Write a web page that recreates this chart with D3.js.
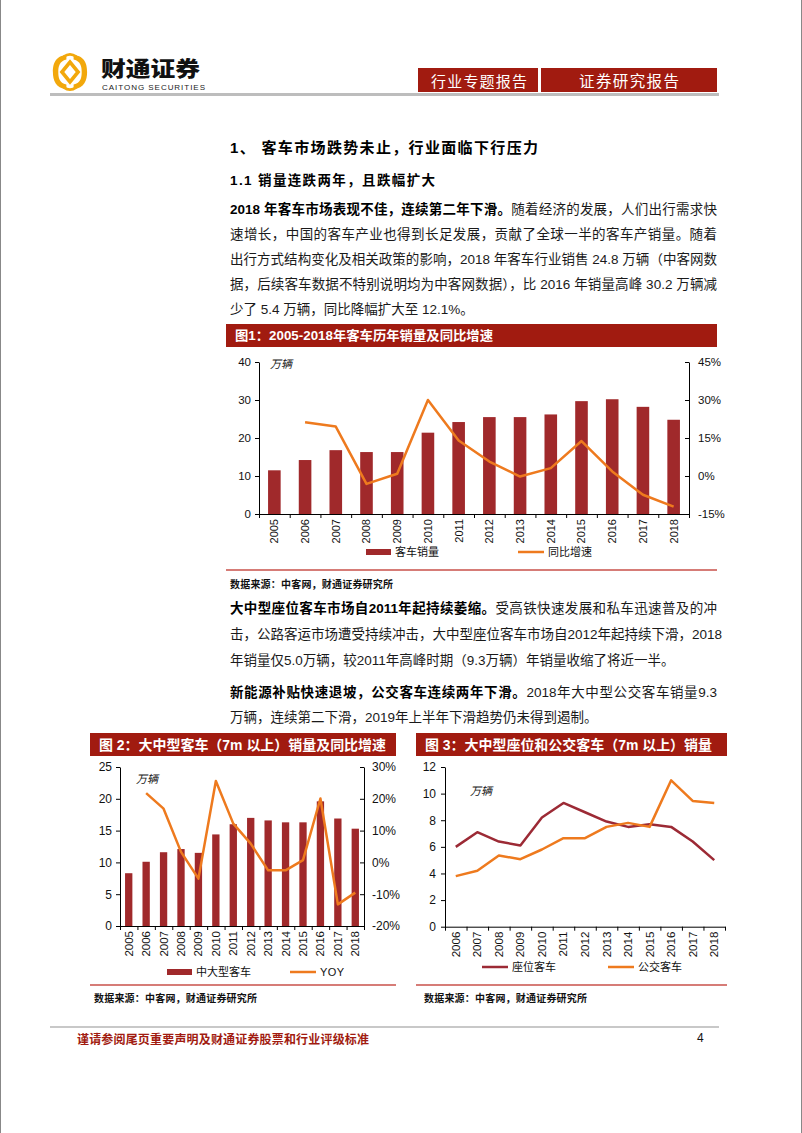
<!DOCTYPE html>
<html><head><meta charset="utf-8">
<script src="https://cdn.jsdelivr.net/npm/d3@7"></script>
<style>
body{margin:0;background:#fff;width:802px;height:1133px;overflow:hidden;position:relative;font-family:"Liberation Sans","Noto Sans CJK SC",sans-serif;}
.line{position:absolute;left:230px;width:487px;font-size:13.5px;line-height:20px;height:20px;white-space:nowrap;color:#1a1a1a;}
.j{text-align:justify;text-align-last:justify;}
.line b{font-weight:bold;color:#000;}
svg{position:absolute;left:0;top:0;}
</style></head><body>
<svg id="page" width="802" height="1133"></svg>
<div id="text"></div>
<script>
// ---------------- data ----------------
const years1 = ["2005","2006","2007","2008","2009","2010","2011","2012","2013","2014","2015","2016","2017","2018"];
const busSales = [11.5,14.2,16.8,16.3,16.3,21.4,24.2,25.5,25.5,26.2,29.7,30.2,28.2,24.8];
const busYoy = [null,21.2,19.5,-3.1,0.9,30.0,14.0,5.7,-0.2,3.1,13.8,1.8,-7.4,-12.1];
const leftTicks1 = [0,10,20,30,40];
const rightTicks1 = [-15,0,15,30,45];

const largeSales = [8.3,10.1,11.6,12.1,11.5,14.4,16.0,17.0,16.6,16.3,16.3,19.6,16.9,15.3];
const largeYoy = [null,21.8,16.9,3.3,-5.1,25.6,12.2,5.9,-2.5,-2.5,0.7,20.1,-13.2,-9.5];
const leftTicks2 = [0,5,10,15,20,25];
const rightTicks2 = [-20,-10,0,10,20,30];

const years3 = ["2006","2007","2008","2009","2010","2011","2012","2013","2014","2015","2016","2017","2018"];
const seatBus = [6.0,7.1,6.4,6.1,8.2,9.3,8.6,7.9,7.5,7.7,7.5,6.4,5.0];
const cityBus = [3.8,4.2,5.35,5.07,5.8,6.65,6.65,7.5,7.8,7.5,11.0,9.45,9.3];
const leftTicks3 = [0,2,4,6,8,10,12];

const RED = "#A11B10", BAR = "#A0292B", ORANGE = "#EE7A1E", SEAT = "#9C2A35", RULE = "#C9504A";
const FONT = '"Liberation Sans","Noto Sans CJK SC",sans-serif';
const CJK = '"Noto Sans CJK SC",sans-serif';

const svg = d3.select("#page");

// page edges
svg.append("line").attr("x1",0.5).attr("x2",0.5).attr("y1",0).attr("y2",1133).attr("stroke","#888");
svg.append("line").attr("x1",801.5).attr("x2",801.5).attr("y1",0).attr("y2",1133).attr("stroke","#888");

// ---------------- header ----------------
const logo = svg.append("g").attr("transform","translate(70,72) scale(0.9)");
const gold = "#F2A80C";
logo.append("path").attr("d","M-4,-19 C-17,-18 -19,-8 -19,0 C-19,9 -16,18 -4,19 L-4,14 C-12,12 -13,6 -13,0 C-13,-6 -12,-12 -4,-14 Z").attr("fill",gold);
logo.append("path").attr("d","M4,-19 C17,-18 19,-8 19,0 C19,9 16,18 4,19 L4,14 C12,12 13,6 13,0 C13,-6 12,-12 4,-14 Z").attr("fill",gold);
logo.append("path").attr("d","M0,-11 L9,0 L0,11 L-9,0 Z").attr("fill","none").attr("stroke",gold).attr("stroke-width",4);
logo.append("path").attr("d","M-7,-17 Q0,-22 7,-17").attr("fill","none").attr("stroke",gold).attr("stroke-width",3);
logo.append("path").attr("d","M-7,17 Q0,22 7,17").attr("fill","none").attr("stroke",gold).attr("stroke-width",3);

svg.append("text").attr("x",101).attr("y",75.5).attr("font-family",CJK).attr("font-weight",900)
  .attr("font-size",21).attr("textLength",99).attr("lengthAdjust","spacingAndGlyphs").attr("fill","#111").text("财通证券");
svg.append("text").attr("x",102).attr("y",89.5).attr("font-family",FONT)
  .attr("font-size",8).attr("textLength",103).attr("fill","#222").text("CAITONG SECURITIES");

svg.append("rect").attr("x",418).attr("y",68).attr("width",120).attr("height",24).attr("fill",RED);
svg.append("rect").attr("x",541).attr("y",68).attr("width",176).attr("height",24).attr("fill",RED);
svg.append("text").attr("x",431).attr("y",80).attr("dominant-baseline","central").attr("font-family",CJK)
  .attr("font-size",15).attr("textLength",96).attr("fill","#fff").text("行业专题报告");
svg.append("text").attr("x",579).attr("y",80).attr("dominant-baseline","central").attr("font-family",CJK)
  .attr("font-size",15.5).attr("textLength",100).attr("fill","#fff").text("证券研究报告");
svg.append("rect").attr("x",50).attr("y",93).attr("width",669).attr("height",3).attr("fill","#BDBDBD");

// ---------------- headings ----------------
svg.append("text").attr("x",230).attr("y",147).attr("dominant-baseline","central").attr("font-family",FONT)
  .attr("font-weight","bold").attr("font-size",15).attr("textLength",308).attr("fill","#000").text("1、 客车市场跌势未止，行业面临下行压力");
svg.append("text").attr("x",230).attr("y",180).attr("dominant-baseline","central").attr("font-family",FONT)
  .attr("font-weight","bold").attr("font-size",13.5).attr("textLength",205).attr("fill","#000").text("1.1  销量连跌两年，且跌幅扩大");

// ---------------- paragraphs ----------------
const paraLines = [
  {y:210, j:true, html:"<b>2018 年客车市场表现不佳，连续第二年下滑。</b>随着经济的发展，人们出行需求快"},
  {y:235, j:true, html:"速增长，中国的客车产业也得到长足发展，贡献了全球一半的客车产销量。随着"},
  {y:260, j:true, html:"出行方式结构变化及相关政策的影响，2018 年客车行业销售 24.8 万辆（中客网数"},
  {y:285, j:true, html:"据，后续客车数据不特别说明均为中客网数据），比 2016 年销量高峰 30.2 万辆减"},
  {y:310, j:false, html:"少了 5.4 万辆，同比降幅扩大至 12.1%。"},
  {y:609, j:true, html:"<b>大中型座位客车市场自2011年起持续萎缩。</b>受高铁快速发展和私车迅速普及的冲"},
  {y:635, j:true, html:"击，公路客运市场遭受持续冲击，大中型座位客车市场自2012年起持续下滑，2018"},
  {y:661, j:false, html:"年销量仅5.0万辆，较2011年高峰时期（9.3万辆）年销量收缩了将近一半。"},
  {y:693, j:true, html:"<b>新能源补贴快速退坡，公交客车连续两年下滑。</b>2018年大中型公交客车销量9.3"},
  {y:718, j:false, html:"万辆，连续第二下滑，2019年上半年下滑趋势仍未得到遏制。"}
];
d3.select("#text").selectAll("div").data(paraLines).join("div")
  .attr("class", d => "line" + (d.j ? " j" : ""))
  .style("top", d => (d.y - 10) + "px")
  .html(d => d.html);

// ---------------- helpers ----------------
function titleBar(x, y, w, h, label, tl, fs) {
  svg.append("rect").attr("x",x).attr("y",y).attr("width",w).attr("height",h).attr("fill",RED);
  svg.append("text").attr("x",x+9).attr("y",y+h/2).attr("dominant-baseline","central")
    .attr("font-family",FONT).attr("font-weight","bold").attr("font-size",fs)
    .attr("textLength",tl).attr("lengthAdjust","spacingAndGlyphs").attr("fill","#fff").text(label);
}
function source(x, y, x0, x1, ry) {
  svg.append("line").attr("x1",x0).attr("x2",x1).attr("y1",ry).attr("y2",ry).attr("stroke",RULE).attr("stroke-width",1.5);
  svg.append("text").attr("x",x).attr("y",y).attr("dominant-baseline","central").attr("font-family",CJK)
    .attr("font-weight","bold").attr("font-size",10).attr("textLength",163).attr("fill","#111").text("数据来源：中客网，财通证券研究所");
}
function xAxis(g, cats, x0, x1, y0, fs) {
  const n = cats.length;
  const lin = d3.scaleLinear().domain([0,n]).range([x0,x1]);
  g.append("g").attr("transform",`translate(0,${y0})`)
    .call(d3.axisBottom(lin).tickValues(d3.range(n+1)).tickFormat("").tickSize(4).tickSizeOuter(0));
  const band = d3.scaleBand().domain(cats).range([x0,x1]);
  g.selectAll(null).data(cats).join("text")
    .attr("transform", d => `translate(${band(d)+band.bandwidth()/2},${y0+5}) rotate(-90)`)
    .attr("text-anchor","end").attr("dy","0.35em").attr("font-family",FONT).attr("font-size",fs).attr("fill","#111").text(d=>d);
}
function styleAxis(sel, fs) {
  sel.selectAll("text").attr("font-family",FONT).attr("font-size",fs).attr("fill","#111");
  sel.selectAll("path,line").attr("stroke","#000");
}
function legendBar(x, y, label, color, tl) {
  svg.append("rect").attr("x",x).attr("y",y-3).attr("width",25).attr("height",6).attr("fill",color);
  svg.append("text").attr("x",x+29).attr("y",y).attr("dominant-baseline","central").attr("font-family",FONT)
    .attr("font-size",11).attr("textLength",tl).attr("fill","#111").text(label);
}
function legendLine(x, y, label, color, tl) {
  svg.append("line").attr("x1",x).attr("x2",x+26).attr("y1",y).attr("y2",y).attr("stroke",color).attr("stroke-width",2.5);
  svg.append("text").attr("x",x+30).attr("y",y).attr("dominant-baseline","central").attr("font-family",FONT)
    .attr("font-size",11).attr("textLength",tl).attr("fill","#111").text(label);
}

function barLineChart(o) {
  const g = svg.append("g");
  const x = d3.scaleBand().domain(o.cats).range([o.x0,o.x1]).paddingInner(o.pad).paddingOuter(o.pad/2);
  const yL = d3.scaleLinear().domain([o.leftTicks[0], o.leftTicks[o.leftTicks.length-1]]).range([o.yb,o.yt]);
  const yR = d3.scaleLinear().domain([o.rightTicks[0], o.rightTicks[o.rightTicks.length-1]]).range([o.yb,o.yt]);
  g.selectAll(null).data(o.cats).join("rect")
    .attr("x", d => x(d)).attr("width", x.bandwidth())
    .attr("y", (d,i) => yL(o.bars[i])).attr("height", (d,i) => yL(0) - yL(o.bars[i]))
    .attr("fill", BAR);
  const pts = o.cats.map((d,i) => [x(d)+x.bandwidth()/2, o.line[i]]).filter(p => p[1] != null);
  g.append("path").datum(pts).attr("fill","none").attr("stroke",ORANGE).attr("stroke-width",2.5)
    .attr("stroke-linejoin","round")
    .attr("d", d3.line().x(p=>p[0]).y(p=>yR(p[1])));
  const la = g.append("g").attr("transform",`translate(${o.x0},0)`)
    .call(d3.axisLeft(yL).tickValues(o.leftTicks).tickSize(4).tickPadding(4).tickSizeOuter(0));
  styleAxis(la, o.fs);
  const ra = g.append("g").attr("transform",`translate(${o.x1},0)`)
    .call(d3.axisRight(yR).tickValues(o.rightTicks).tickFormat(d => d + "%").tickSizeInner(-4).tickSizeOuter(0).tickPadding(o.rpad));
  styleAxis(ra, o.fs);
  xAxis(g, o.cats, o.x0, o.x1, o.yb, o.xfs);
  g.append("text").attr("x",o.unitX).attr("y",o.unitY).attr("dominant-baseline","central").attr("font-family",CJK)
    .attr("font-size",11).attr("fill","#111").attr("font-style","italic").text("万辆");
}

// ---------------- Figure 1 ----------------
titleBar(226, 324, 491, 23, "图1：2005-2018年客车历年销量及同比增速", 258, 13);
barLineChart({cats:years1, bars:busSales, line:busYoy, leftTicks:leftTicks1, rightTicks:rightTicks1,
  x0:259, x1:689, yt:362, yb:514, pad:0.59, fs:11.5, xfs:11, rpad:9, unitX:270, unitY:363});
legendBar(366, 552, "客车销量", BAR, 44);
legendLine(518, 552, "同比增速", ORANGE, 44);
source(230, 583, 226, 717, 570);

// ---------------- Figure 2 ----------------
titleBar(90, 733, 306, 23, "图 2：大中型客车（7m 以上）销量及同比增速", 287, 14);
barLineChart({cats:years1, bars:largeSales, line:largeYoy, leftTicks:leftTicks2, rightTicks:rightTicks2,
  x0:120, x1:364, yt:767, yb:926, pad:0.58, fs:12, xfs:11.5, rpad:8, unitX:136, unitY:778});
legendBar(167, 972, "中大型客车", BAR, 55);
legendLine(290, 972, "YOY", ORANGE, 24);
source(94, 997, 90, 396, 985);

// ---------------- Figure 3 ----------------
titleBar(416, 733, 311, 23, "图 3：大中型座位和公交客车（7m 以上）销量", 287, 14);
(function(){
  const g = svg.append("g");
  const x0 = 445, x1 = 725, yt = 767, yb = 926.7;
  const x = d3.scaleBand().domain(years3).range([x0,x1]);
  const y = d3.scaleLinear().domain([0,12]).range([yb,yt]);
  const line = d3.line().x((d,i)=>x(years3[i])+x.bandwidth()/2).y(d=>y(d));
  g.append("path").datum(seatBus).attr("fill","none").attr("stroke",SEAT).attr("stroke-width",2.5).attr("stroke-linejoin","round").attr("d",line);
  g.append("path").datum(cityBus).attr("fill","none").attr("stroke",ORANGE).attr("stroke-width",2.5).attr("stroke-linejoin","round").attr("d",line);
  const la = g.append("g").attr("transform",`translate(${x0},0)`)
    .call(d3.axisLeft(y).tickValues(leftTicks3).tickSize(4).tickPadding(5).tickSizeOuter(0));
  styleAxis(la, 12);
  xAxis(g, years3, x0, x1, yb, 11.5);
  g.append("text").attr("x",470).attr("y",790).attr("dominant-baseline","central").attr("font-family",CJK)
    .attr("font-size",11).attr("fill","#111").attr("font-style","italic").text("万辆");
})();
legendLine(482, 967, "座位客车", SEAT, 44);
legendLine(608, 967, "公交客车", ORANGE, 44);
source(424, 997, 416, 727, 985);

// ---------------- footer ----------------
svg.append("rect").attr("x",50).attr("y",1026).attr("width",669).attr("height",2).attr("fill","#C8C8C8");
svg.append("text").attr("x",77).attr("y",1038).attr("dominant-baseline","central").attr("font-family",CJK)
  .attr("font-weight","bold").attr("font-size",12).attr("textLength",292).attr("fill",RED).text("谨请参阅尾页重要声明及财通证券股票和行业评级标准");
svg.append("text").attr("x",697).attr("y",1038).attr("dominant-baseline","central").attr("font-family",FONT)
  .attr("font-size",12).attr("fill","#111").text("4");
</script>
</body></html>
